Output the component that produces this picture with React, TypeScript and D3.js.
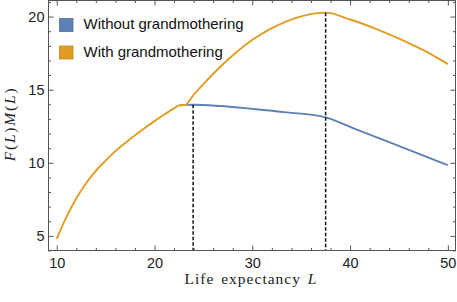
import { useEffect, useRef } from 'react';
import * as d3 from 'd3';

// life expectancy L vs F(L)M(L)
const withL = [10, 11, 12, 13, 14, 15, 16, 17, 18, 19, 20, 21, 22, 22.5, 23.1, 24, 25, 26.7, 28.4, 30.1, 31.8, 33.5, 35.2, 37.5, 40, 42.5, 45, 47.5, 50];
const withV = [4.8, 6.3, 7.55, 8.6, 9.45, 10.15, 10.8, 11.35, 11.88, 12.38, 12.85, 13.3, 13.72, 13.93, 13.95, 14.65, 15.38, 16.55, 17.58, 18.45, 19.14, 19.68, 20.05, 20.27, 19.8, 19.2, 18.5, 17.7, 16.75];

const withoutL = [22.5, 23.1, 24, 26.7, 30.1, 33.5, 37.5, 40.3, 45.95, 50];
const withoutV = [13.93, 13.96, 13.97, 13.88, 13.68, 13.45, 13.11, 12.37, 10.9, 9.84];

const optimaL = [23.95, 37.5];
const optimaV = [13.97, 20.27];

const seriesNames = ['Without grandmothering', 'With grandmothering'];
const seriesColors = ['#5E81B5', '#E19C24'];

const xTicks = [10, 20, 30, 40, 50];
const yTicks = [5, 10, 15, 20];

const W = 457;
const H = 302;
const frame = { left: 48.5, right: 455.5, top: 0.5, bottom: 250.5 };

export default function App() {
  const bottomAxis = useRef(null);
  const topAxis = useRef(null);
  const leftAxis = useRef(null);
  const rightAxis = useRef(null);

  const xScale = d3.scaleLinear().domain([9.16, 50.78]).range([frame.left, frame.right]);
  const yScale = d3.scaleLinear().domain([4, 21.1]).range([frame.bottom, frame.top]);

  const line = d3.line<[number, number]>()
    .x((d) => xScale(d[0]))
    .y((d) => yScale(d[1]))
    .curve(d3.curveMonotoneX);

  const withPts = withL.map((l, i) => [l, withV[i]] as [number, number]);
  const withoutPts = withoutL.map((l, i) => [l, withoutV[i]] as [number, number]);

  useEffect(() => {
    const xMinor = d3.range(10, 51, 2).filter((v) => !xTicks.includes(v));
    const yMinor = d3.range(4, 21.01, 1).filter((v) => !yTicks.includes(v));

    const style = (sel) => {
      sel.select('.domain').remove();
      sel.selectAll('line').attr('stroke', '#555').attr('stroke-width', 1);
      sel.selectAll('text')
        .attr('font-family', 'Liberation Sans, Arial, sans-serif')
        .attr('font-size', 14.5)
        .attr('fill', '#222');
    };

    // labelled sides get a padding, mirrored sides (-1) get ticks only
    const sides = [
      [bottomAxis, d3.axisBottom, xScale, xTicks, xMinor, 7],
      [topAxis, d3.axisTop, xScale, xTicks, xMinor, -1],
      [leftAxis, d3.axisLeft, yScale, yTicks, yMinor, 4],
      [rightAxis, d3.axisRight, yScale, yTicks, yMinor, -1],
    ] as const;

    sides.forEach(([ref, axisFn, scale, major, minor, pad]) => {
      const g = d3.select(ref.current);
      g.selectAll('*').remove();
      const majorAxis = axisFn(scale).tickValues(major as number[]).tickSizeInner(-5).tickSizeOuter(0)
        .tickPadding(Math.max(pad, 0));
      if (pad < 0) majorAxis.tickFormat(() => '');
      g.append('g').call(majorAxis).call(style);
      const minorAxis = axisFn(scale).tickValues(minor as number[]).tickSizeInner(-2.5).tickSizeOuter(0).tickFormat(() => '');
      g.append('g').call(minorAxis).call(style);
    });
  }, []);

  return (
    <svg width={W} height={H} style={{ position: 'absolute', left: 0, top: 0 }}>
      <rect x={0} y={0} width={W} height={H} fill="white" />

      {/* curves */}
      <path d={line(withoutPts)} fill="none" stroke={seriesColors[0]} strokeWidth={1.9} />
      <path d={line(withPts)} fill="none" stroke={seriesColors[1]} strokeWidth={1.9} />

      {/* optimum markers */}
      {optimaL.map((l, i) => (
        <line key={l} x1={xScale(l)} x2={xScale(l)} y1={yScale(optimaV[i])} y2={frame.bottom}
          stroke="#111" strokeWidth={1.5} strokeDasharray="3.5,2" />
      ))}

      {/* frame + axes */}
      <rect x={frame.left} y={frame.top} width={frame.right - frame.left} height={frame.bottom - frame.top}
        fill="none" stroke="#555" strokeWidth={1} />
      <g ref={bottomAxis} transform={`translate(0, ${frame.bottom})`} />
      <g ref={topAxis} transform={`translate(0, ${frame.top})`} />
      <g ref={leftAxis} transform={`translate(${frame.left}, 0)`} />
      <g ref={rightAxis} transform={`translate(${frame.right}, 0)`} />

      {/* legend */}
      {seriesNames.map((name, i) => (
        <g key={name} transform={`translate(59.5, ${18.5 + i * 27.5})`}>
          <rect width={13.5} height={13} fill={seriesColors[i]} stroke={d3.color(seriesColors[i]).darker(0.4).toString()} strokeWidth={0.8} />
          <text x={24} y={10.8} fontFamily="Liberation Sans, Arial, sans-serif" fontSize={15} fill="#111">{name}</text>
        </g>
      ))}

      {/* axis titles */}
      <text x={251} y={284} textAnchor="middle" fontFamily="Liberation Serif, Times New Roman, serif" fontSize={15.5} letterSpacing={1} wordSpacing={2} fill="#222">
        Life expectancy <tspan fontStyle="italic">L</tspan>
      </text>
      <text transform="translate(15, 124) rotate(-90)" textAnchor="middle" fontFamily="Liberation Serif, Times New Roman, serif" fontSize={15.5} letterSpacing={1.8} fill="#222">
        <tspan fontStyle="italic">F</tspan>(<tspan fontStyle="italic">L</tspan>)<tspan fontStyle="italic">M</tspan>(<tspan fontStyle="italic">L</tspan>)
      </text>
    </svg>
  );
}
